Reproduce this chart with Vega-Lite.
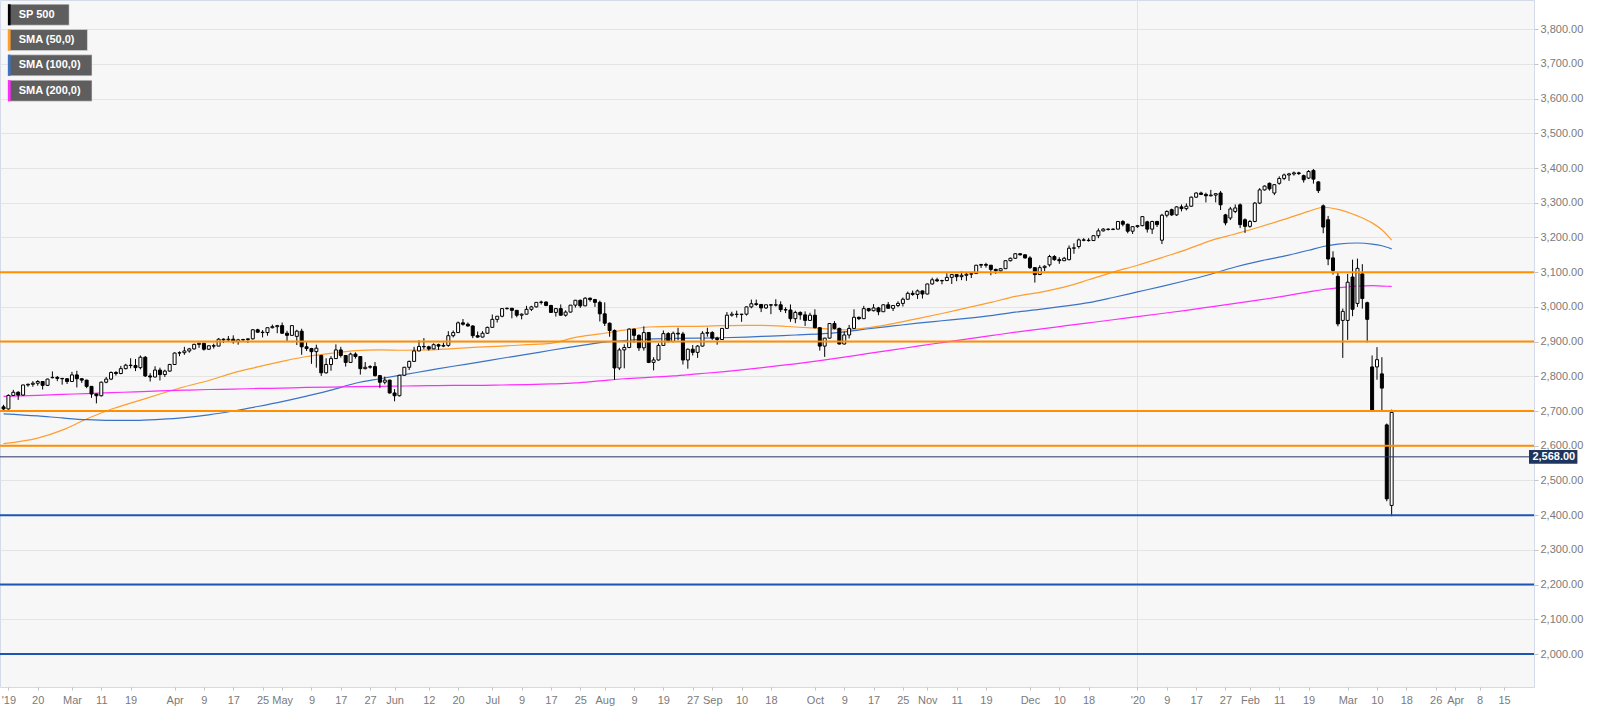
{
  "$schema": "https://vega.github.io/schema/vega-lite/v6.json",
  "width": 1534,
  "height": 687,
  "autosize": "none",
  "padding": {"left": 0, "top": 0, "right": 66, "bottom": 25},
  "background": "#ffffff",
  "config": {
    "view": {"fill": "#f7f7f7", "stroke": "#d5dae8", "strokeWidth": 1},
    "font": "Liberation Sans",
    "axis": {"labelFont": "Liberation Sans", "labelFontSize": 11, "labelColor": "#7a7a7a", "tickColor": "#c4c4c4", "domain": false, "labelOverlap": false},
    "axisX": {"grid": false, "tickSize": 3, "labelPadding": 4, "labelOverlap": false, "labelBound": false, "labelFlush": false, "tickCount": 80},
    "axisY": {"grid": true, "gridColor": "#e4e4e4", "tickSize": 4, "labelPadding": 2, "labelOverlap": false, "tickCount": 40}
  },
  "layer": [
    {
      "data": {"values": [{"d": "2020-01-01"}]},
      "transform": [
        {"calculate": "round((toDate(datum.d) - toDate('2019-02-04')) / 86400000)", "as": "n"},
        {"calculate": "floor(datum.n / 7) * 5 + datum.n % 7 - 12", "as": "t"}
      ],
      "mark": {"type": "rule", "color": "#e2e2e2", "strokeWidth": 1},
      "encoding": {
        "x": {
          "field": "t", "type": "quantitative", "title": null,
          "scale": {"domain": [-6.7, 305.1], "nice": false, "zero": false},
          "axis": {
            "title": null, "labelOverlap": false, "labelBound": false, "labelFlush": false, "grid": false, "tickCount": 80,
            "values": [-6,0,7,13,19,28,34,40,46,50,56,62,68,73,80,86,93,99,105,111,116,122,128,134,138,144,150,159,165,171,177,182,188,194,203,209,215,225,231,237,243,248,254,260,268,274,280,286,290,295,300],
            "labelExpr": "[\"'19\",\"20\",\"Mar\",\"11\",\"19\",\"Apr\",\"9\",\"17\",\"25\",\"May\",\"9\",\"17\",\"27\",\"Jun\",\"12\",\"20\",\"Jul\",\"9\",\"17\",\"25\",\"Aug\",\"9\",\"19\",\"27\",\"Sep\",\"10\",\"18\",\"Oct\",\"9\",\"17\",\"25\",\"Nov\",\"11\",\"19\",\"Dec\",\"10\",\"18\",\"'20\",\"9\",\"17\",\"27\",\"Feb\",\"11\",\"19\",\"Mar\",\"10\",\"18\",\"26\",\"Apr\",\"8\",\"15\"][indexof([-6,0,7,13,19,28,34,40,46,50,56,62,68,73,80,86,93,99,105,111,116,122,128,134,138,144,150,159,165,171,177,182,188,194,203,209,215,225,231,237,243,248,254,260,268,274,280,286,290,295,300], datum.value)]"
          }
        }
      }
    },
    {
      "data": {"values": [
        {"d":"2019-02-11","sma50":2606,"sma100":2692,"sma200":2742},
        {"d":"2019-02-20","sma50":2622,"sma100":2686,"sma200":2745},
        {"d":"2019-02-27","sma50":2645,"sma100":2680,"sma200":2748},
        {"d":"2019-03-06","sma50":2677,"sma100":2675,"sma200":2750},
        {"d":"2019-03-13","sma50":2705,"sma100":2673,"sma200":2753},
        {"d":"2019-03-20","sma50":2727,"sma100":2673,"sma200":2755},
        {"d":"2019-03-27","sma50":2749,"sma100":2676,"sma200":2758},
        {"d":"2019-04-03","sma50":2770,"sma100":2681,"sma200":2760},
        {"d":"2019-04-10","sma50":2788,"sma100":2689,"sma200":2762},
        {"d":"2019-04-17","sma50":2810,"sma100":2700,"sma200":2763},
        {"d":"2019-04-24","sma50":2827,"sma100":2713,"sma200":2765},
        {"d":"2019-05-01","sma50":2843,"sma100":2727,"sma200":2766},
        {"d":"2019-05-08","sma50":2857,"sma100":2743,"sma200":2768},
        {"d":"2019-05-15","sma50":2866,"sma100":2760,"sma200":2769},
        {"d":"2019-05-22","sma50":2874,"sma100":2780,"sma200":2770},
        {"d":"2019-05-29","sma50":2876,"sma100":2793,"sma200":2771},
        {"d":"2019-06-05","sma50":2875,"sma100":2805,"sma200":2772},
        {"d":"2019-06-12","sma50":2876,"sma100":2817,"sma200":2773},
        {"d":"2019-06-19","sma50":2880,"sma100":2829,"sma200":2774},
        {"d":"2019-06-26","sma50":2884,"sma100":2840,"sma200":2774},
        {"d":"2019-07-03","sma50":2887,"sma100":2852,"sma200":2775},
        {"d":"2019-07-10","sma50":2891,"sma100":2863,"sma200":2776},
        {"d":"2019-07-17","sma50":2895,"sma100":2875,"sma200":2778},
        {"d":"2019-07-24","sma50":2912,"sma100":2886,"sma200":2781},
        {"d":"2019-07-31","sma50":2922,"sma100":2897,"sma200":2787},
        {"d":"2019-08-07","sma50":2933,"sma100":2903,"sma200":2793},
        {"d":"2019-08-14","sma50":2942,"sma100":2907,"sma200":2797},
        {"d":"2019-08-21","sma50":2944,"sma100":2909,"sma200":2801},
        {"d":"2019-08-28","sma50":2944,"sma100":2910,"sma200":2807},
        {"d":"2019-09-04","sma50":2946,"sma100":2911,"sma200":2813},
        {"d":"2019-09-11","sma50":2947,"sma100":2913,"sma200":2820},
        {"d":"2019-09-18","sma50":2946,"sma100":2916,"sma200":2828},
        {"d":"2019-09-25","sma50":2942,"sma100":2919,"sma200":2836},
        {"d":"2019-10-02","sma50":2938,"sma100":2922,"sma200":2845},
        {"d":"2019-10-09","sma50":2934,"sma100":2928,"sma200":2855},
        {"d":"2019-10-16","sma50":2940,"sma100":2937,"sma200":2866},
        {"d":"2019-10-23","sma50":2952,"sma100":2945,"sma200":2876},
        {"d":"2019-10-30","sma50":2966,"sma100":2953,"sma200":2887},
        {"d":"2019-11-06","sma50":2981,"sma100":2960,"sma200":2897},
        {"d":"2019-11-13","sma50":2997,"sma100":2967,"sma200":2907},
        {"d":"2019-11-20","sma50":3013,"sma100":2975,"sma200":2917},
        {"d":"2019-11-27","sma50":3030,"sma100":2985,"sma200":2927},
        {"d":"2019-12-04","sma50":3042,"sma100":2993,"sma200":2936},
        {"d":"2019-12-11","sma50":3057,"sma100":3002,"sma200":2945},
        {"d":"2019-12-18","sma50":3078,"sma100":3012,"sma200":2954},
        {"d":"2019-12-25","sma50":3100,"sma100":3027,"sma200":2963},
        {"d":"2020-01-01","sma50":3120,"sma100":3043,"sma200":2972},
        {"d":"2020-01-08","sma50":3142,"sma100":3059,"sma200":2981},
        {"d":"2020-01-15","sma50":3165,"sma100":3076,"sma200":2990},
        {"d":"2020-01-22","sma50":3191,"sma100":3094,"sma200":3000},
        {"d":"2020-01-29","sma50":3210,"sma100":3115,"sma200":3010},
        {"d":"2020-02-05","sma50":3230,"sma100":3132,"sma200":3020},
        {"d":"2020-02-12","sma50":3252,"sma100":3146,"sma200":3031},
        {"d":"2020-02-19","sma50":3275,"sma100":3163,"sma200":3043},
        {"d":"2020-02-24","sma50":3287,"sma100":3174,"sma200":3050},
        {"d":"2020-02-27","sma50":3281,"sma100":3181,"sma200":3055},
        {"d":"2020-03-04","sma50":3262,"sma100":3184,"sma200":3060},
        {"d":"2020-03-09","sma50":3242,"sma100":3181,"sma200":3061},
        {"d":"2020-03-11","sma50":3222,"sma100":3176,"sma200":3060},
        {"d":"2020-03-13","sma50":3192,"sma100":3167,"sma200":3059}
      ]},
      "transform": [
        {"calculate": "round((toDate(datum.d) - toDate('2019-02-04')) / 86400000)", "as": "n"},
        {"calculate": "floor(datum.n / 7) * 5 + datum.n % 7 - 12", "as": "t"},
        {"fold": ["sma50", "sma100", "sma200"], "as": ["key", "v"]}
      ],
      "mark": {"type": "line", "strokeWidth": 1.2, "interpolate": "monotone"},
      "encoding": {
        "x": {"field": "t", "type": "quantitative", "title": null, "scale": {"domain": [-6.7, 305.1], "nice": false, "zero": false}},
        "y": {
          "field": "v", "type": "quantitative", "title": null,
          "scale": {"domain": [1905, 3884], "nice": false, "zero": false},
          "axis": {
            "orient": "right", "title": null, "format": ",.2f", "labelOverlap": false, "grid": true, "tickCount": 40,
            "values": [2000,2100,2200,2300,2400,2500,2600,2700,2800,2900,3000,3100,3200,3300,3400,3500,3600,3700,3800]
          }
        },
        "color": {
          "field": "key", "type": "nominal", "legend": null,
          "scale": {"domain": ["sp", "sma50", "sma100", "sma200"], "range": ["#000000", "#ff9d2e", "#3b73c4", "#ff2cff"]}
        }
      }
    },
    {
      "data": {"values": [
        {"d":"2019-02-11","o":2712,"h":2718,"l":2700,"c":2706},
        {"d":"2019-02-12","o":2706,"h":2748,"l":2704,"c":2745},
        {"d":"2019-02-13","o":2745,"h":2761,"l":2743,"c":2754},
        {"d":"2019-02-14","o":2754,"h":2757,"l":2732,"c":2746},
        {"d":"2019-02-15","o":2746,"h":2776,"l":2744,"c":2775},
        {"d":"2019-02-18","o":2775,"h":2779,"l":2770,"c":2777},
        {"d":"2019-02-19","o":2777,"h":2786,"l":2770,"c":2780},
        {"d":"2019-02-20","o":2780,"h":2789,"l":2773,"c":2785},
        {"d":"2019-02-21","o":2785,"h":2786,"l":2762,"c":2774},
        {"d":"2019-02-22","o":2774,"h":2793,"l":2772,"c":2792},
        {"d":"2019-02-25","o":2796,"h":2814,"l":2794,"c":2797},
        {"d":"2019-02-26","o":2797,"h":2801,"l":2786,"c":2794},
        {"d":"2019-02-27","o":2794,"h":2795,"l":2776,"c":2793},
        {"d":"2019-02-28","o":2793,"h":2794,"l":2778,"c":2785},
        {"d":"2019-03-01","o":2785,"h":2813,"l":2785,"c":2804},
        {"d":"2019-03-04","o":2804,"h":2816,"l":2768,"c":2793},
        {"d":"2019-03-05","o":2793,"h":2795,"l":2781,"c":2789},
        {"d":"2019-03-06","o":2789,"h":2790,"l":2766,"c":2771},
        {"d":"2019-03-07","o":2771,"h":2772,"l":2738,"c":2749},
        {"d":"2019-03-08","o":2749,"h":2750,"l":2722,"c":2744},
        {"d":"2019-03-11","o":2744,"h":2785,"l":2742,"c":2783},
        {"d":"2019-03-12","o":2783,"h":2798,"l":2780,"c":2792},
        {"d":"2019-03-13","o":2792,"h":2814,"l":2789,"c":2811},
        {"d":"2019-03-14","o":2811,"h":2815,"l":2802,"c":2808},
        {"d":"2019-03-15","o":2808,"h":2830,"l":2806,"c":2822},
        {"d":"2019-03-18","o":2822,"h":2836,"l":2820,"c":2832},
        {"d":"2019-03-19","o":2832,"h":2852,"l":2823,"c":2831},
        {"d":"2019-03-20","o":2831,"h":2850,"l":2815,"c":2825},
        {"d":"2019-03-21","o":2825,"h":2860,"l":2820,"c":2855},
        {"d":"2019-03-22","o":2855,"h":2858,"l":2798,"c":2801},
        {"d":"2019-03-25","o":2801,"h":2809,"l":2785,"c":2798},
        {"d":"2019-03-26","o":2798,"h":2829,"l":2797,"c":2818},
        {"d":"2019-03-27","o":2818,"h":2825,"l":2788,"c":2805},
        {"d":"2019-03-28","o":2805,"h":2819,"l":2798,"c":2815},
        {"d":"2019-03-29","o":2815,"h":2836,"l":2813,"c":2834},
        {"d":"2019-04-01","o":2834,"h":2869,"l":2834,"c":2867},
        {"d":"2019-04-02","o":2867,"h":2872,"l":2858,"c":2868},
        {"d":"2019-04-03","o":2868,"h":2885,"l":2862,"c":2873},
        {"d":"2019-04-04","o":2873,"h":2882,"l":2868,"c":2879},
        {"d":"2019-04-05","o":2879,"h":2894,"l":2877,"c":2892},
        {"d":"2019-04-08","o":2892,"h":2896,"l":2882,"c":2895},
        {"d":"2019-04-09","o":2895,"h":2896,"l":2874,"c":2878},
        {"d":"2019-04-10","o":2878,"h":2889,"l":2876,"c":2888},
        {"d":"2019-04-11","o":2888,"h":2894,"l":2880,"c":2887},
        {"d":"2019-04-12","o":2887,"h":2910,"l":2887,"c":2907},
        {"d":"2019-04-15","o":2907,"h":2909,"l":2896,"c":2905},
        {"d":"2019-04-16","o":2905,"h":2916,"l":2901,"c":2907},
        {"d":"2019-04-17","o":2907,"h":2918,"l":2894,"c":2900},
        {"d":"2019-04-18","o":2900,"h":2908,"l":2891,"c":2905},
        {"d":"2019-04-19","o":2905,"h":2908,"l":2902,"c":2906},
        {"d":"2019-04-22","o":2906,"h":2909,"l":2896,"c":2908},
        {"d":"2019-04-23","o":2908,"h":2936,"l":2906,"c":2934},
        {"d":"2019-04-24","o":2934,"h":2937,"l":2926,"c":2927},
        {"d":"2019-04-25","o":2927,"h":2933,"l":2912,"c":2926},
        {"d":"2019-04-26","o":2926,"h":2940,"l":2917,"c":2940},
        {"d":"2019-04-29","o":2940,"h":2949,"l":2938,"c":2943},
        {"d":"2019-04-30","o":2943,"h":2948,"l":2924,"c":2946},
        {"d":"2019-05-01","o":2946,"h":2955,"l":2923,"c":2924},
        {"d":"2019-05-02","o":2924,"h":2931,"l":2901,"c":2918},
        {"d":"2019-05-03","o":2918,"h":2947,"l":2917,"c":2946},
        {"d":"2019-05-06","o":2915,"h":2934,"l":2890,"c":2930},
        {"d":"2019-05-07","o":2930,"h":2937,"l":2862,"c":2885},
        {"d":"2019-05-08","o":2885,"h":2898,"l":2873,"c":2880},
        {"d":"2019-05-09","o":2880,"h":2882,"l":2836,"c":2871},
        {"d":"2019-05-10","o":2871,"h":2891,"l":2825,"c":2881},
        {"d":"2019-05-13","o":2860,"h":2862,"l":2801,"c":2810},
        {"d":"2019-05-14","o":2810,"h":2852,"l":2808,"c":2834},
        {"d":"2019-05-15","o":2834,"h":2858,"l":2816,"c":2851},
        {"d":"2019-05-16","o":2851,"h":2892,"l":2850,"c":2876},
        {"d":"2019-05-17","o":2876,"h":2885,"l":2854,"c":2860},
        {"d":"2019-05-20","o":2860,"h":2861,"l":2828,"c":2840},
        {"d":"2019-05-21","o":2840,"h":2868,"l":2839,"c":2864},
        {"d":"2019-05-22","o":2864,"h":2869,"l":2851,"c":2857},
        {"d":"2019-05-23","o":2857,"h":2858,"l":2805,"c":2822},
        {"d":"2019-05-24","o":2822,"h":2841,"l":2820,"c":2826},
        {"d":"2019-05-27","o":2826,"h":2832,"l":2822,"c":2828},
        {"d":"2019-05-28","o":2828,"h":2841,"l":2799,"c":2802},
        {"d":"2019-05-29","o":2802,"h":2803,"l":2766,"c":2783},
        {"d":"2019-05-30","o":2783,"h":2799,"l":2777,"c":2789},
        {"d":"2019-05-31","o":2789,"h":2790,"l":2750,"c":2752},
        {"d":"2019-06-03","o":2752,"h":2763,"l":2728,"c":2744},
        {"d":"2019-06-04","o":2744,"h":2804,"l":2742,"c":2803},
        {"d":"2019-06-05","o":2803,"h":2827,"l":2801,"c":2826},
        {"d":"2019-06-06","o":2826,"h":2845,"l":2818,"c":2843},
        {"d":"2019-06-07","o":2843,"h":2885,"l":2842,"c":2873},
        {"d":"2019-06-10","o":2873,"h":2904,"l":2872,"c":2886},
        {"d":"2019-06-11","o":2886,"h":2910,"l":2878,"c":2885},
        {"d":"2019-06-12","o":2885,"h":2888,"l":2874,"c":2879},
        {"d":"2019-06-13","o":2879,"h":2895,"l":2879,"c":2891},
        {"d":"2019-06-14","o":2891,"h":2894,"l":2876,"c":2887},
        {"d":"2019-06-17","o":2887,"h":2897,"l":2884,"c":2889},
        {"d":"2019-06-18","o":2889,"h":2930,"l":2885,"c":2917},
        {"d":"2019-06-19","o":2917,"h":2932,"l":2912,"c":2926},
        {"d":"2019-06-20","o":2926,"h":2958,"l":2925,"c":2954},
        {"d":"2019-06-21","o":2954,"h":2965,"l":2946,"c":2950},
        {"d":"2019-06-24","o":2950,"h":2955,"l":2943,"c":2945},
        {"d":"2019-06-25","o":2945,"h":2947,"l":2910,"c":2917},
        {"d":"2019-06-26","o":2917,"h":2929,"l":2911,"c":2913},
        {"d":"2019-06-27","o":2913,"h":2930,"l":2912,"c":2924},
        {"d":"2019-06-28","o":2924,"h":2943,"l":2922,"c":2941},
        {"d":"2019-07-01","o":2941,"h":2978,"l":2941,"c":2964},
        {"d":"2019-07-02","o":2964,"h":2973,"l":2955,"c":2973},
        {"d":"2019-07-03","o":2973,"h":2996,"l":2970,"c":2995},
        {"d":"2019-07-04","o":2995,"h":2998,"l":2992,"c":2996},
        {"d":"2019-07-05","o":2996,"h":2997,"l":2967,"c":2990},
        {"d":"2019-07-08","o":2990,"h":2990,"l":2970,"c":2976},
        {"d":"2019-07-09","o":2976,"h":2981,"l":2964,"c":2979},
        {"d":"2019-07-10","o":2979,"h":3003,"l":2978,"c":2993},
        {"d":"2019-07-11","o":2993,"h":3003,"l":2988,"c":3000},
        {"d":"2019-07-12","o":3000,"h":3014,"l":2998,"c":3013},
        {"d":"2019-07-15","o":3013,"h":3018,"l":3007,"c":3014},
        {"d":"2019-07-16","o":3014,"h":3016,"l":3002,"c":3004},
        {"d":"2019-07-17","o":3004,"h":3006,"l":2983,"c":2984},
        {"d":"2019-07-18","o":2984,"h":2997,"l":2972,"c":2995},
        {"d":"2019-07-19","o":2995,"h":3007,"l":2975,"c":2976},
        {"d":"2019-07-22","o":2976,"h":2990,"l":2972,"c":2985},
        {"d":"2019-07-23","o":2985,"h":3005,"l":2984,"c":3005},
        {"d":"2019-07-24","o":3005,"h":3020,"l":2998,"c":3019},
        {"d":"2019-07-25","o":3019,"h":3021,"l":2997,"c":3003},
        {"d":"2019-07-26","o":3003,"h":3028,"l":3002,"c":3025},
        {"d":"2019-07-29","o":3025,"h":3027,"l":3015,"c":3021},
        {"d":"2019-07-30","o":3021,"h":3023,"l":3000,"c":3013},
        {"d":"2019-07-31","o":3013,"h":3018,"l":2958,"c":2980},
        {"d":"2019-08-01","o":2980,"h":3013,"l":2945,"c":2953},
        {"d":"2019-08-02","o":2953,"h":2955,"l":2914,"c":2932},
        {"d":"2019-08-05","o":2932,"h":2935,"l":2790,"c":2824},
        {"d":"2019-08-06","o":2824,"h":2882,"l":2818,"c":2876},
        {"d":"2019-08-07","o":2876,"h":2892,"l":2823,"c":2883},
        {"d":"2019-08-08","o":2883,"h":2938,"l":2881,"c":2936},
        {"d":"2019-08-09","o":2936,"h":2937,"l":2897,"c":2918},
        {"d":"2019-08-12","o":2918,"h":2921,"l":2873,"c":2882},
        {"d":"2019-08-13","o":2882,"h":2944,"l":2874,"c":2926},
        {"d":"2019-08-14","o":2926,"h":2927,"l":2838,"c":2840},
        {"d":"2019-08-15","o":2840,"h":2855,"l":2817,"c":2847},
        {"d":"2019-08-16","o":2847,"h":2895,"l":2845,"c":2889},
        {"d":"2019-08-19","o":2889,"h":2932,"l":2888,"c":2923},
        {"d":"2019-08-20","o":2923,"h":2927,"l":2898,"c":2900},
        {"d":"2019-08-21","o":2900,"h":2929,"l":2898,"c":2924},
        {"d":"2019-08-22","o":2924,"h":2940,"l":2904,"c":2922},
        {"d":"2019-08-23","o":2922,"h":2928,"l":2834,"c":2847},
        {"d":"2019-08-26","o":2847,"h":2880,"l":2822,"c":2878},
        {"d":"2019-08-27","o":2878,"h":2890,"l":2860,"c":2869},
        {"d":"2019-08-28","o":2869,"h":2890,"l":2853,"c":2887},
        {"d":"2019-08-29","o":2887,"h":2930,"l":2886,"c":2924},
        {"d":"2019-08-30","o":2924,"h":2940,"l":2914,"c":2926},
        {"d":"2019-09-02","o":2926,"h":2930,"l":2905,"c":2910},
        {"d":"2019-09-03","o":2910,"h":2914,"l":2891,"c":2906},
        {"d":"2019-09-04","o":2906,"h":2938,"l":2905,"c":2938},
        {"d":"2019-09-05","o":2938,"h":2985,"l":2937,"c":2976},
        {"d":"2019-09-06","o":2976,"h":2986,"l":2972,"c":2979},
        {"d":"2019-09-09","o":2979,"h":2989,"l":2969,"c":2978},
        {"d":"2019-09-10","o":2978,"h":2980,"l":2957,"c":2979},
        {"d":"2019-09-11","o":2979,"h":3001,"l":2975,"c":3000},
        {"d":"2019-09-12","o":3000,"h":3021,"l":2996,"c":3009},
        {"d":"2019-09-13","o":3009,"h":3021,"l":3003,"c":3007},
        {"d":"2019-09-16","o":3007,"h":3007,"l":2985,"c":2997},
        {"d":"2019-09-17","o":2997,"h":3006,"l":2994,"c":3006},
        {"d":"2019-09-18","o":3006,"h":3007,"l":2979,"c":3005},
        {"d":"2019-09-19","o":3005,"h":3022,"l":3001,"c":3006},
        {"d":"2019-09-20","o":3006,"h":3016,"l":2985,"c":2992},
        {"d":"2019-09-23","o":2992,"h":2999,"l":2982,"c":2991},
        {"d":"2019-09-24","o":2991,"h":3007,"l":2957,"c":2966},
        {"d":"2019-09-25","o":2966,"h":2989,"l":2953,"c":2984},
        {"d":"2019-09-26","o":2984,"h":2987,"l":2963,"c":2977},
        {"d":"2019-09-27","o":2977,"h":2987,"l":2945,"c":2961},
        {"d":"2019-09-30","o":2961,"h":2983,"l":2960,"c":2976},
        {"d":"2019-10-01","o":2976,"h":2993,"l":2938,"c":2940},
        {"d":"2019-10-02","o":2940,"h":2941,"l":2874,"c":2887},
        {"d":"2019-10-03","o":2887,"h":2911,"l":2856,"c":2910},
        {"d":"2019-10-04","o":2910,"h":2953,"l":2909,"c":2952},
        {"d":"2019-10-07","o":2952,"h":2959,"l":2935,"c":2938},
        {"d":"2019-10-08","o":2938,"h":2940,"l":2892,"c":2893},
        {"d":"2019-10-09","o":2893,"h":2929,"l":2892,"c":2919},
        {"d":"2019-10-10","o":2919,"h":2948,"l":2909,"c":2938},
        {"d":"2019-10-11","o":2938,"h":2993,"l":2938,"c":2970},
        {"d":"2019-10-14","o":2970,"h":2972,"l":2962,"c":2966},
        {"d":"2019-10-15","o":2966,"h":3003,"l":2965,"c":2995},
        {"d":"2019-10-16","o":2995,"h":2997,"l":2986,"c":2989},
        {"d":"2019-10-17","o":2989,"h":3008,"l":2987,"c":2997},
        {"d":"2019-10-18","o":2997,"h":3000,"l":2976,"c":2986},
        {"d":"2019-10-21","o":2986,"h":3007,"l":2986,"c":3006},
        {"d":"2019-10-22","o":3006,"h":3014,"l":2995,"c":2996},
        {"d":"2019-10-23","o":2996,"h":3005,"l":2988,"c":3004},
        {"d":"2019-10-24","o":3004,"h":3016,"l":2999,"c":3010},
        {"d":"2019-10-25","o":3010,"h":3027,"l":3001,"c":3022},
        {"d":"2019-10-28","o":3022,"h":3044,"l":3021,"c":3039},
        {"d":"2019-10-29","o":3039,"h":3047,"l":3032,"c":3036},
        {"d":"2019-10-30","o":3036,"h":3050,"l":3023,"c":3046},
        {"d":"2019-10-31","o":3046,"h":3047,"l":3024,"c":3037},
        {"d":"2019-11-01","o":3037,"h":3067,"l":3036,"c":3066},
        {"d":"2019-11-04","o":3066,"h":3084,"l":3064,"c":3078},
        {"d":"2019-11-05","o":3078,"h":3084,"l":3072,"c":3075},
        {"d":"2019-11-06","o":3075,"h":3078,"l":3065,"c":3076},
        {"d":"2019-11-07","o":3076,"h":3097,"l":3074,"c":3085},
        {"d":"2019-11-08","o":3085,"h":3094,"l":3066,"c":3093},
        {"d":"2019-11-11","o":3093,"h":3093,"l":3074,"c":3087},
        {"d":"2019-11-12","o":3087,"h":3102,"l":3077,"c":3091},
        {"d":"2019-11-13","o":3091,"h":3099,"l":3075,"c":3094},
        {"d":"2019-11-14","o":3094,"h":3098,"l":3083,"c":3096},
        {"d":"2019-11-15","o":3096,"h":3121,"l":3095,"c":3120},
        {"d":"2019-11-18","o":3120,"h":3124,"l":3112,"c":3122},
        {"d":"2019-11-19","o":3122,"h":3127,"l":3113,"c":3120},
        {"d":"2019-11-20","o":3120,"h":3121,"l":3091,"c":3108},
        {"d":"2019-11-21","o":3108,"h":3110,"l":3095,"c":3104},
        {"d":"2019-11-22","o":3104,"h":3112,"l":3099,"c":3110},
        {"d":"2019-11-25","o":3110,"h":3134,"l":3110,"c":3133},
        {"d":"2019-11-26","o":3133,"h":3142,"l":3131,"c":3140},
        {"d":"2019-11-27","o":3140,"h":3155,"l":3138,"c":3153},
        {"d":"2019-11-28","o":3153,"h":3155,"l":3148,"c":3150},
        {"d":"2019-11-29","o":3150,"h":3151,"l":3139,"c":3141},
        {"d":"2019-12-02","o":3141,"h":3146,"l":3109,"c":3113},
        {"d":"2019-12-03","o":3113,"h":3114,"l":3070,"c":3093},
        {"d":"2019-12-04","o":3093,"h":3120,"l":3092,"c":3113},
        {"d":"2019-12-05","o":3113,"h":3120,"l":3103,"c":3117},
        {"d":"2019-12-06","o":3121,"h":3150,"l":3116,"c":3145},
        {"d":"2019-12-09","o":3145,"h":3149,"l":3133,"c":3136},
        {"d":"2019-12-10","o":3136,"h":3143,"l":3124,"c":3133},
        {"d":"2019-12-11","o":3133,"h":3144,"l":3132,"c":3140},
        {"d":"2019-12-12","o":3136,"h":3177,"l":3134,"c":3169},
        {"d":"2019-12-13","o":3169,"h":3183,"l":3153,"c":3170},
        {"d":"2019-12-16","o":3174,"h":3197,"l":3168,"c":3193},
        {"d":"2019-12-17","o":3193,"h":3198,"l":3189,"c":3192},
        {"d":"2019-12-18","o":3192,"h":3198,"l":3188,"c":3191},
        {"d":"2019-12-19","o":3191,"h":3206,"l":3190,"c":3205},
        {"d":"2019-12-20","o":3205,"h":3226,"l":3198,"c":3219},
        {"d":"2019-12-23","o":3219,"h":3227,"l":3217,"c":3224},
        {"d":"2019-12-24","o":3224,"h":3226,"l":3220,"c":3223},
        {"d":"2019-12-25","o":3223,"h":3226,"l":3221,"c":3224},
        {"d":"2019-12-26","o":3224,"h":3247,"l":3223,"c":3246},
        {"d":"2019-12-27","o":3246,"h":3250,"l":3232,"c":3238},
        {"d":"2019-12-30","o":3238,"h":3240,"l":3212,"c":3218},
        {"d":"2019-12-31","o":3218,"h":3232,"l":3210,"c":3231},
        {"d":"2020-01-01","o":3231,"h":3236,"l":3228,"c":3234},
        {"d":"2020-01-02","o":3234,"h":3261,"l":3232,"c":3260},
        {"d":"2020-01-03","o":3245,"h":3248,"l":3214,"c":3224},
        {"d":"2020-01-06","o":3224,"h":3248,"l":3210,"c":3246},
        {"d":"2020-01-07","o":3246,"h":3248,"l":3230,"c":3237},
        {"d":"2020-01-08","o":3192,"h":3268,"l":3181,"c":3264},
        {"d":"2020-01-09","o":3264,"h":3278,"l":3258,"c":3275},
        {"d":"2020-01-10","o":3280,"h":3283,"l":3262,"c":3265},
        {"d":"2020-01-13","o":3265,"h":3290,"l":3262,"c":3288},
        {"d":"2020-01-14","o":3288,"h":3295,"l":3275,"c":3283},
        {"d":"2020-01-15","o":3283,"h":3298,"l":3278,"c":3290},
        {"d":"2020-01-16","o":3290,"h":3318,"l":3288,"c":3316},
        {"d":"2020-01-17","o":3316,"h":3330,"l":3314,"c":3328},
        {"d":"2020-01-20","o":3328,"h":3332,"l":3322,"c":3324},
        {"d":"2020-01-21","o":3324,"h":3329,"l":3301,"c":3320},
        {"d":"2020-01-22","o":3320,"h":3337,"l":3318,"c":3322},
        {"d":"2020-01-23","o":3322,"h":3328,"l":3301,"c":3326},
        {"d":"2020-01-24","o":3328,"h":3334,"l":3279,"c":3294},
        {"d":"2020-01-27","o":3265,"h":3268,"l":3235,"c":3242},
        {"d":"2020-01-28","o":3256,"h":3288,"l":3250,"c":3282},
        {"d":"2020-01-29","o":3275,"h":3295,"l":3270,"c":3285},
        {"d":"2020-01-30","o":3294,"h":3298,"l":3227,"c":3237},
        {"d":"2020-01-31","o":3251,"h":3255,"l":3213,"c":3232},
        {"d":"2020-02-03","o":3232,"h":3250,"l":3228,"c":3246},
        {"d":"2020-02-04","o":3246,"h":3302,"l":3244,"c":3299},
        {"d":"2020-02-05","o":3299,"h":3342,"l":3296,"c":3337},
        {"d":"2020-02-06","o":3337,"h":3350,"l":3335,"c":3348},
        {"d":"2020-02-07","o":3356,"h":3358,"l":3335,"c":3340},
        {"d":"2020-02-10","o":3328,"h":3354,"l":3322,"c":3352},
        {"d":"2020-02-11","o":3356,"h":3376,"l":3352,"c":3370},
        {"d":"2020-02-12","o":3370,"h":3384,"l":3365,"c":3380},
        {"d":"2020-02-13","o":3380,"h":3386,"l":3363,"c":3383},
        {"d":"2020-02-14","o":3383,"h":3390,"l":3378,"c":3386},
        {"d":"2020-02-17","o":3386,"h":3389,"l":3380,"c":3384},
        {"d":"2020-02-18","o":3378,"h":3381,"l":3358,"c":3366},
        {"d":"2020-02-19","o":3371,"h":3394,"l":3368,"c":3390},
        {"d":"2020-02-20","o":3393,"h":3397,"l":3355,"c":3368},
        {"d":"2020-02-21","o":3360,"h":3362,"l":3328,"c":3335},
        {"d":"2020-02-24","o":3291,"h":3295,"l":3212,"c":3230},
        {"d":"2020-02-25","o":3251,"h":3262,"l":3120,"c":3138},
        {"d":"2020-02-26","o":3141,"h":3160,"l":3093,"c":3105},
        {"d":"2020-02-27","o":3088,"h":3100,"l":2944,"c":2951},
        {"d":"2020-02-28","o":2961,"h":2995,"l":2853,"c":2987},
        {"d":"2020-03-02","o":2961,"h":3095,"l":2905,"c":3071},
        {"d":"2020-03-03","o":3086,"h":3136,"l":2973,"c":2993},
        {"d":"2020-03-04","o":3010,"h":3139,"l":3000,"c":3111},
        {"d":"2020-03-05","o":3095,"h":3123,"l":2995,"c":3024},
        {"d":"2020-03-06","o":3012,"h":3015,"l":2898,"c":2964},
        {"d":"2020-03-09","o":2827,"h":2860,"l":2697,"c":2703},
        {"d":"2020-03-10","o":2827,"h":2884,"l":2790,"c":2848},
        {"d":"2020-03-11","o":2807,"h":2855,"l":2701,"c":2766},
        {"d":"2020-03-12","o":2660,"h":2664,"l":2440,"c":2447},
        {"d":"2020-03-13","o":2428,"h":2704,"l":2397,"c":2696}
      ]},
      "transform": [
        {"calculate": "round((toDate(datum.d) - toDate('2019-02-04')) / 86400000)", "as": "n"},
        {"calculate": "floor(datum.n / 7) * 5 + datum.n % 7 - 12", "as": "t"},
        {"calculate": "datum.c < datum.o ? 'down' : 'up'", "as": "dir"}
      ],
      "layer": [
        {
          "mark": {"type": "rule", "color": "#000000", "strokeWidth": 1},
          "encoding": {
            "x": {"field": "t", "type": "quantitative", "title": null, "scale": {"domain": [-6.7, 305.1], "nice": false, "zero": false}},
            "y": {"field": "l", "type": "quantitative", "title": null, "scale": {"domain": [1905, 3884], "nice": false, "zero": false}},
            "y2": {"field": "h"}
          }
        },
        {
          "mark": {"type": "bar", "size": 3, "stroke": "#000000", "strokeWidth": 1},
          "encoding": {
            "x": {"field": "t", "type": "quantitative", "title": null, "scale": {"domain": [-6.7, 305.1], "nice": false, "zero": false}},
            "y": {"field": "o", "type": "quantitative", "title": null, "scale": {"domain": [1905, 3884], "nice": false, "zero": false}},
            "y2": {"field": "c"},
            "fill": {"field": "dir", "type": "nominal", "legend": null, "scale": {"domain": ["down", "up"], "range": ["#000000", "#ffffff"]}}
          }
        }
      ]
    },
    {
      "data": {"values": [{"p": 3100, "k": "res"}, {"p": 2900, "k": "res"}, {"p": 2700, "k": "res"}, {"p": 2600, "k": "res"}, {"p": 2400, "k": "sup"}, {"p": 2200, "k": "sup"}, {"p": 2000, "k": "sup"}]},
      "mark": {"type": "rule", "strokeWidth": 2},
      "encoding": {
        "y": {"field": "p", "type": "quantitative", "title": null, "scale": {"domain": [1905, 3884], "nice": false, "zero": false}},
        "stroke": {"field": "k", "type": "nominal", "legend": null, "scale": {"domain": ["res", "sup"], "range": ["#ff8f00", "#1c56b4"]}}
      }
    },
    {
      "data": {"values": [{"price": 2568}]},
      "transform": [
        {"calculate": "datum.price + 20", "as": "top"},
        {"calculate": "datum.price - 20", "as": "bot"},
        {"calculate": "305.1", "as": "x1"},
        {"calculate": "315", "as": "x2"},
        {"calculate": "305.8", "as": "tx"}
      ],
      "layer": [
        {
          "mark": {"type": "rule", "color": "#24365f", "strokeWidth": 1},
          "encoding": {
            "y": {"field": "price", "type": "quantitative", "title": null, "scale": {"domain": [1905, 3884], "nice": false, "zero": false}}
          }
        },
        {
          "mark": {"type": "rect", "fill": "#1e355f"},
          "encoding": {
            "x": {"field": "x1", "type": "quantitative", "title": null, "scale": {"domain": [-6.7, 305.1], "nice": false, "zero": false}},
            "x2": {"field": "x2"},
            "y": {"field": "top", "type": "quantitative", "title": null, "scale": {"domain": [1905, 3884], "nice": false, "zero": false}},
            "y2": {"field": "bot"}
          }
        },
        {
          "mark": {"type": "text", "align": "left", "baseline": "middle", "fill": "#ffffff", "fontSize": 11, "font": "Liberation Sans", "fontWeight": "bold"},
          "encoding": {
            "x": {"field": "tx", "type": "quantitative", "title": null, "scale": {"domain": [-6.7, 305.1], "nice": false, "zero": false}},
            "y": {"field": "price", "type": "quantitative", "title": null, "scale": {"domain": [1905, 3884], "nice": false, "zero": false}},
            "text": {"field": "price", "type": "quantitative", "format": ",.2f"}
          }
        }
      ]
    },
    {
      "data": {"values": [
        {"key": "sp", "name": "SP 500", "row": 0},
        {"key": "sma50", "name": "SMA (50,0)", "row": 1},
        {"key": "sma100", "name": "SMA (100,0)", "row": 2},
        {"key": "sma200", "name": "SMA (200,0)", "row": 3}
      ]},
      "transform": [
        {"calculate": "3871.9 - 72.97 * datum.row", "as": "top"},
        {"calculate": "datum.top - 60.4", "as": "bot"},
        {"calculate": "datum.top - 30.2", "as": "mid"},
        {"calculate": "-6.1", "as": "left"},
        {"calculate": "-5.55", "as": "stripe"},
        {"calculate": "-3.9", "as": "tx"},
        {"calculate": "-6.1 + (34 + 4.6 * length(datum.name)) / 4.92", "as": "right"}
      ],
      "layer": [
        {
          "mark": {"type": "rect", "fill": "#5e5e5e", "stroke": "#e8e8e8", "strokeWidth": 0.5},
          "encoding": {
            "x": {"field": "left", "type": "quantitative", "title": null, "scale": {"domain": [-6.7, 305.1], "nice": false, "zero": false}},
            "x2": {"field": "right"},
            "y": {"field": "top", "type": "quantitative", "title": null, "scale": {"domain": [1905, 3884], "nice": false, "zero": false}},
            "y2": {"field": "bot"}
          }
        },
        {
          "mark": {"type": "rect"},
          "encoding": {
            "x": {"field": "left", "type": "quantitative", "title": null, "scale": {"domain": [-6.7, 305.1], "nice": false, "zero": false}},
            "x2": {"field": "stripe"},
            "y": {"field": "top", "type": "quantitative", "title": null, "scale": {"domain": [1905, 3884], "nice": false, "zero": false}},
            "y2": {"field": "bot"},
            "color": {
              "field": "key", "type": "nominal", "legend": null,
              "scale": {"domain": ["sp", "sma50", "sma100", "sma200"], "range": ["#000000", "#ff9d2e", "#3b73c4", "#ff2cff"]}
            }
          }
        },
        {
          "mark": {"type": "text", "align": "left", "baseline": "middle", "fill": "#ffffff", "fontSize": 11, "fontWeight": "bold", "font": "Liberation Sans"},
          "encoding": {
            "x": {"field": "tx", "type": "quantitative", "title": null, "scale": {"domain": [-6.7, 305.1], "nice": false, "zero": false}},
            "y": {"field": "mid", "type": "quantitative", "title": null, "scale": {"domain": [1905, 3884], "nice": false, "zero": false}},
            "text": {"field": "name", "type": "nominal"}
          }
        }
      ]
    }
  ]
}
